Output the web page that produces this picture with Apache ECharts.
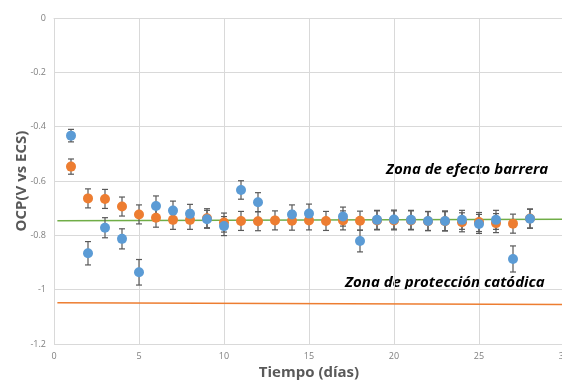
<!DOCTYPE html>
<html>
<head>
<meta charset="utf-8">
<script src="https://cdn.jsdelivr.net/npm/echarts@6/dist/echarts.min.js"></script>
<style>html,body{margin:0;padding:0;background:#fff;}#c{width:562px;height:383px;}</style>
</head>
<body>
<div id="c"></div>
<script>
var days = [1,2,3,4,5,6,7,8,9,10,11,12,13,14,15,16,17,18,19,20,21,22,23,24,25,26,27,28];
var blueVals = [-0.433,-0.866,-0.772,-0.813,-0.936,-0.692,-0.709,-0.721,-0.741,-0.766,-0.633,-0.678,null,-0.723,-0.720,null,-0.731,-0.821,-0.743,-0.742,-0.743,-0.747,-0.747,-0.743,-0.758,-0.743,-0.887,-0.739];
var blueErr = [0.023,0.043,0.037,0.037,0.047,0.037,0.035,0.035,0.033,0.035,0.034,0.035,null,0.035,0.035,null,0.035,0.040,0.035,0.035,0.035,0.035,0.037,0.035,0.035,0.035,0.048,0.035];
var orangeVals = [-0.547,-0.664,-0.666,-0.694,-0.723,-0.735,-0.743,-0.743,-0.737,-0.753,-0.747,-0.748,-0.745,-0.746,-0.745,-0.747,-0.745,-0.746,-0.745,-0.745,-0.745,-0.748,-0.748,-0.752,-0.751,-0.755,-0.757,-0.738];
var orangeErr = [0.028,0.035,0.035,0.035,0.035,0.035,0.035,0.035,0.035,0.035,0.035,0.035,0.035,0.035,0.035,0.035,0.035,0.035,0.035,0.035,0.035,0.035,0.035,0.035,0.035,0.035,0.035,0.035];
var barrierLine = [[0.2,-0.746],[30,-0.741]];
var cathodicLine = [[0.2,-1.048],[30,-1.055]];
var labelBarrier = 'Zona de efecto barrera';
var labelCathodic = 'Zona de protección catódica';

function pts(vals){ var o=[]; for(var i=0;i<days.length;i++){ if(vals[i]!==null) o.push([days[i],vals[i]]);} return o; }
function errs(vals,e){ var o=[]; for(var i=0;i<days.length;i++){ if(vals[i]!==null) o.push([days[i],vals[i]-e[i],vals[i]+e[i]]);} return o; }

function errRender(params, api){
  var x = api.value(0);
  var lo = api.coord([x, api.value(1)]);
  var hi = api.coord([x, api.value(2)]);
  var w = 3;
  var st = {stroke:'#595959', lineWidth:1.2};
  return {type:'group', children:[
    {type:'line', shape:{x1:lo[0],y1:lo[1],x2:hi[0],y2:hi[1]}, style:st},
    {type:'line', shape:{x1:lo[0]-w,y1:lo[1],x2:lo[0]+w,y2:lo[1]}, style:st},
    {type:'line', shape:{x1:hi[0]-w,y1:hi[1],x2:hi[0]+w,y2:hi[1]}, style:st}
  ]};
}

var chart = echarts.init(document.getElementById('c'), null, {renderer:'canvas'});
var font = '"Open Sans", "Liberation Sans", sans-serif';
chart.setOption({
  animation:false,
  textStyle:{fontFamily:font},
  grid:{left:54, top:18, width:510, height:326, containLabel:false, outerBoundsMode:'none'},
  xAxis:{type:'value', min:0, max:30, interval:5,
    name:'Tiempo (días)', nameLocation:'middle', nameGap:21, nameMoveOverlap:false,
    nameTextStyle:{fontSize:15, fontWeight:'bold', color:'#595959', fontFamily:font},
    axisLine:{show:true, lineStyle:{color:'#d9d9d9'}}, axisTick:{show:false},
    axisLabel:{color:'#7f7f7f', fontSize:9, margin:8, fontFamily:font},
    splitLine:{show:true, lineStyle:{color:'#d9d9d9', width:1}}},
  yAxis:{type:'value', min:-1.2, max:0, interval:0.2,
    name:'OCP(V vs ECS)', nameLocation:'middle', nameGap:25, nameMoveOverlap:false,
    nameTextStyle:{fontSize:15, fontWeight:'bold', color:'#595959', fontFamily:font},
    axisLine:{show:false}, axisTick:{show:false},
    axisLabel:{color:'#7f7f7f', fontSize:9, margin:8, fontFamily:font,
      formatter:function(v){ return String(Math.round(v*10)/10); }},
    splitLine:{show:true, showMaxLine:false, lineStyle:{color:'#d9d9d9', width:1}}},
  series:[
    {type:'line', data:barrierLine, symbol:'none', lineStyle:{color:'#70ad47', width:1.5}, z:1, silent:true},
    {type:'line', data:cathodicLine, symbol:'none', lineStyle:{color:'#ed7d31', width:1.5}, z:1, silent:true},
    {type:'custom', data:errs(orangeVals,orangeErr), renderItem:errRender, z:2, encode:{x:0,y:[1,2]}},
    {type:'custom', data:errs(blueVals,blueErr), renderItem:errRender, z:2, encode:{x:0,y:[1,2]}},
    {type:'scatter', data:pts(orangeVals), symbolSize:10, itemStyle:{color:'#ed7d31', opacity:1}, z:3},
    {type:'scatter', data:pts(blueVals), symbolSize:10, itemStyle:{color:'#5b9bd5', opacity:1}, z:4}
  ],
  graphic:[
    {type:'text', left:386, top:162, style:{text:labelBarrier, font:'italic bold 15px '+font, fill:'#000'}},
    {type:'text', left:345, top:275, style:{text:labelCathodic, font:'italic bold 15px '+font, fill:'#000'}}
  ]
});
</script>
</body>
</html>
